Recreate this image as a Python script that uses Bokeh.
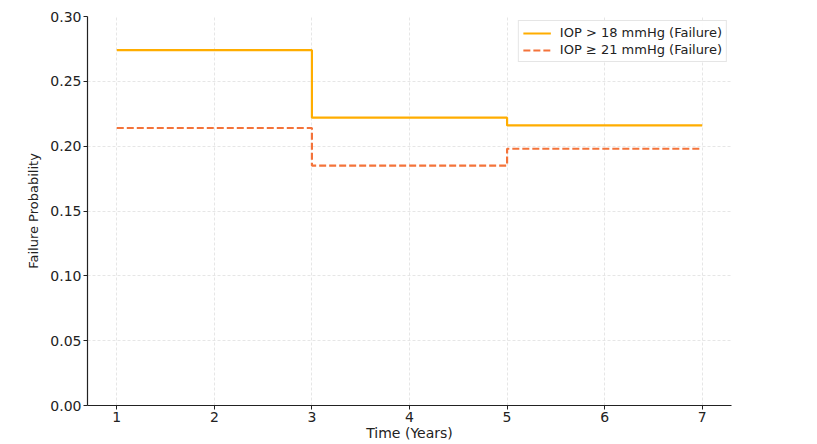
from bokeh.plotting import figure
from bokeh.models import FixedTicker, NumeralTickFormatter, Range1d, Legend, LegendItem
from bokeh.embed import file_html
from bokeh.resources import INLINE

# Data
years = [1, 3, 5, 7]
iop18_failure = [0.274, 0.222, 0.216, 0.216]
iop21_failure = [0.214, 0.185, 0.198, 0.198]
x_ticks = [1, 2, 3, 4, 5, 6, 7]
y_ticks = [0.00, 0.05, 0.10, 0.15, 0.20, 0.25, 0.30]
series_labels = ["IOP > 18 mmHg (Failure)", "IOP \u2265 21 mmHg (Failure)"]

FONT = "DejaVu Sans"

p = figure(
    output_backend="svg", toolbar_location=None,
    frame_width=644, frame_height=389,
    min_border_left=87, min_border_right=70, min_border_top=16, min_border_bottom=38,
    x_range=Range1d(0.7, 7.3), y_range=Range1d(0.0, 0.30),
    x_axis_label="Time (Years)", y_axis_label="Failure Probability",
)
p.outline_line_color = None
p.background_fill_color = "white"
p.border_fill_color = "white"

r1 = p.step(years, iop18_failure, mode="after", line_color="#FFAD00", line_width=2.2)
r2 = p.step(years, iop21_failure, mode="after", line_color="#F4733A", line_width=2.2,
            line_dash="7 3")

for ax in (p.xaxis[0], p.yaxis[0]):
    ax.axis_line_color = "#222222"
    ax.axis_line_width = 1.2
    ax.major_tick_line_color = "#222222"
    ax.major_tick_out = 4
    ax.major_tick_in = 0
    ax.minor_tick_line_color = None
    ax.major_label_text_font = FONT
    ax.major_label_text_font_size = "14px"
    ax.major_label_text_color = "#222222"
    ax.axis_label_text_font = FONT
    ax.axis_label_text_font_style = "normal"
    ax.axis_label_text_color = "#222222"
    ax.major_label_standoff = 2

p.xaxis[0].axis_label_text_font_size = "14px"
p.yaxis[0].axis_label_text_font_size = "13px"
p.xaxis[0].ticker = FixedTicker(ticks=x_ticks)
p.yaxis[0].ticker = FixedTicker(ticks=y_ticks)
p.yaxis[0].formatter = NumeralTickFormatter(format="0.00")
p.xaxis[0].axis_label_standoff = 0
p.yaxis[0].axis_label_standoff = 6

p.grid.grid_line_color = "#e0e0e0"
p.grid.grid_line_dash = "3 2"
p.grid.grid_line_width = 0.8

legend = Legend(items=[
    LegendItem(label=series_labels[0], renderers=[r1]),
    LegendItem(label=series_labels[1], renderers=[r2]),
], location="top_right")
legend.margin = 4
legend.padding = 4
legend.spacing = 2
legend.label_text_font = FONT
legend.label_text_font_size = "13px"
legend.label_text_color = "#222222"
legend.glyph_width = 28
legend.glyph_height = 14
legend.label_height = 14
legend.label_standoff = 9
legend.border_line_color = "#cccccc"
legend.border_line_width = 1
legend.background_fill_alpha = 0.9
p.add_layout(legend)

open("out.html", "w").write(file_html(p, INLINE))
